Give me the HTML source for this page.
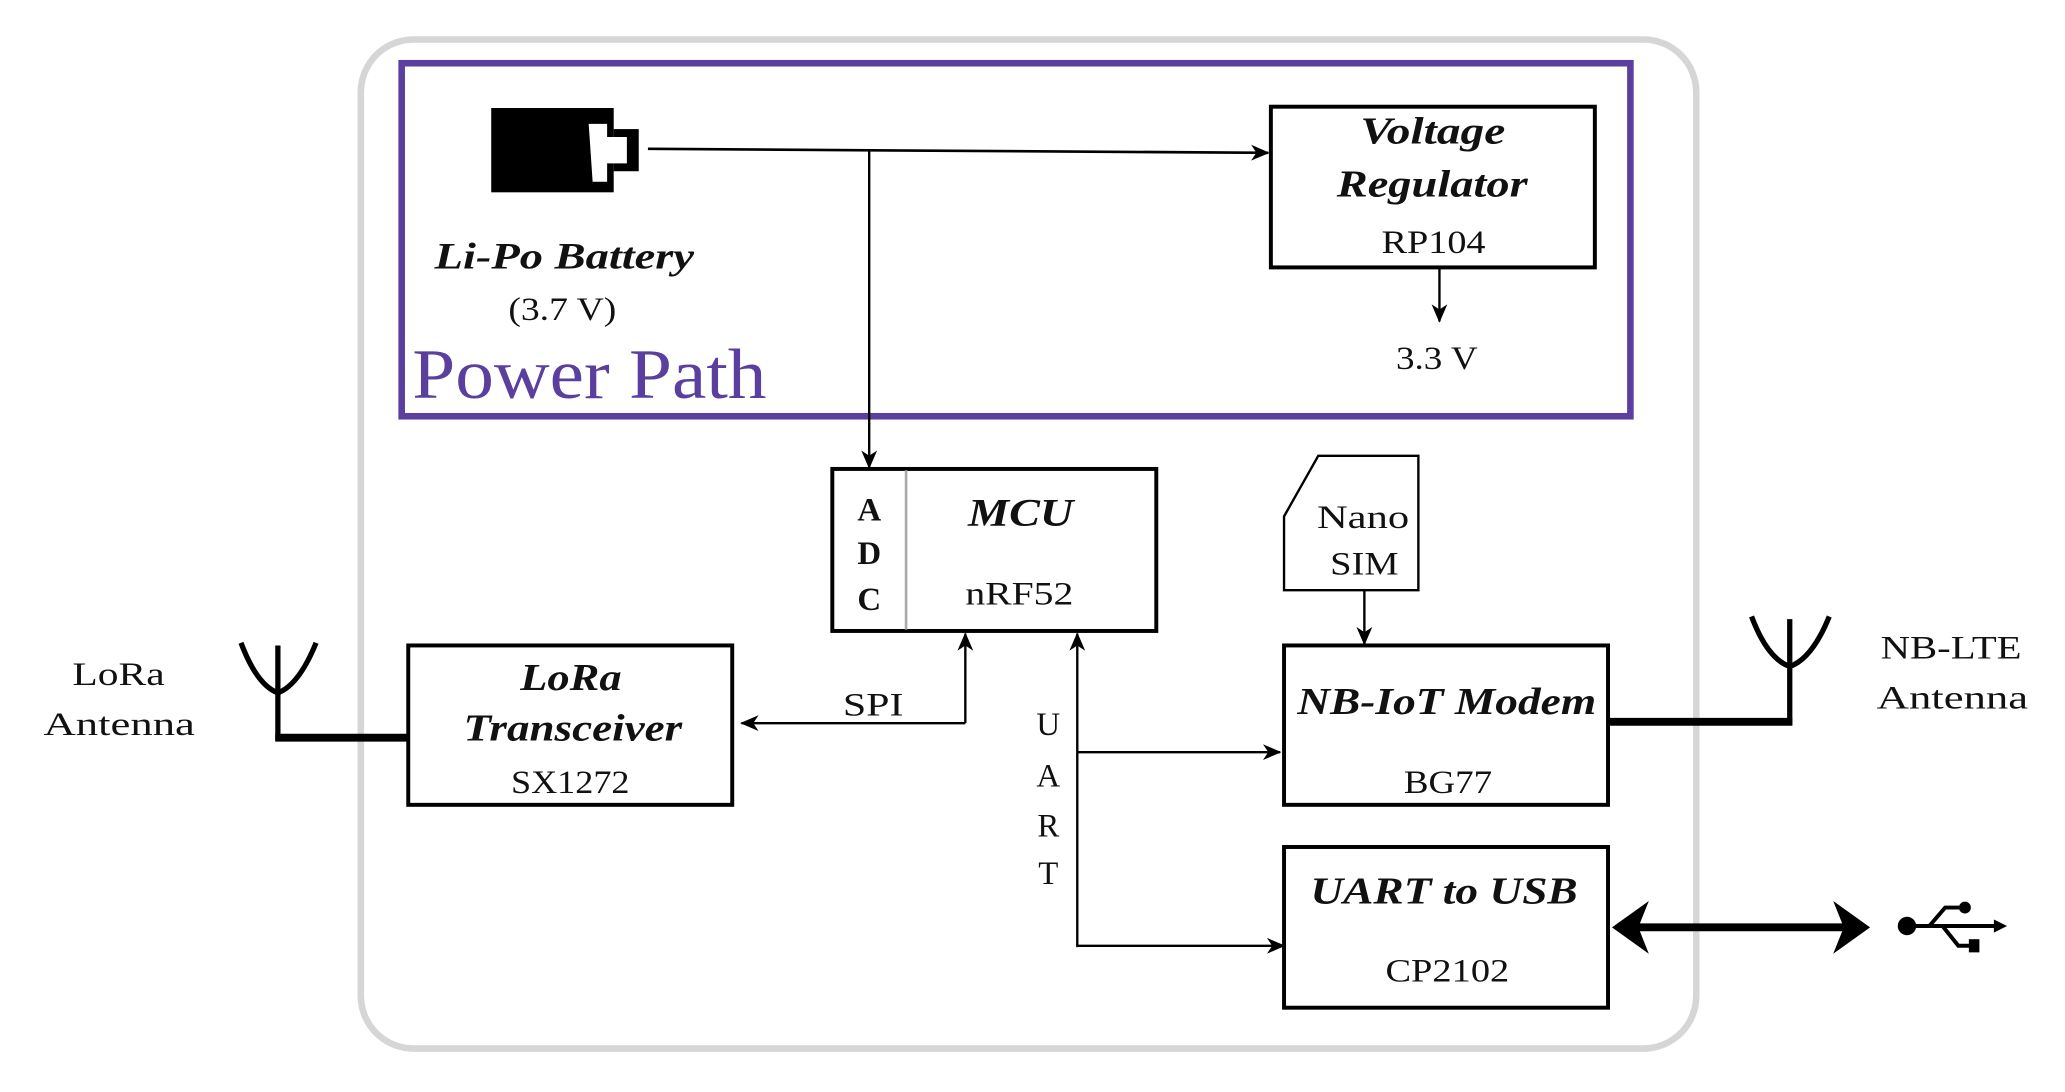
<!DOCTYPE html>
<html><head><meta charset="utf-8"><style>
html,body{margin:0;padding:0;background:#fff;}
svg{display:block;}
text{font-family:"Liberation Serif",serif;fill:#111;}
.bi{font-style:italic;font-weight:bold;}
</style></head><body>
<svg width="2065" height="1092" viewBox="0 0 1568 829" preserveAspectRatio="none" xmlns="http://www.w3.org/2000/svg">
<defs>
<marker id="a" markerWidth="14" markerHeight="14" refX="13" refY="7" orient="auto" markerUnits="userSpaceOnUse"><path d="M0,1 L14,7 L0,13 L4,7 Z" fill="#000"/></marker>
</defs>
<!-- outer -->
<rect x="274" y="30" width="1014" height="766" rx="40" fill="none" stroke="#d6d6d6" stroke-width="5"/>
<!-- power path -->
<rect x="305" y="48" width="933" height="268" fill="none" stroke="#5a3f9f" stroke-width="5"/>
<text x="313" y="302" font-size="54" textLength="269" lengthAdjust="spacingAndGlyphs" style="fill:#5a3f9f">Power Path</text>
<!-- battery -->
<rect x="373" y="82" width="93" height="64" fill="#000"/>
<rect x="466" y="98" width="19" height="32" fill="#000"/>
<polygon points="447,94 461,94 461,104 476,104 476,124 461,124 461,138 450,138" fill="#fff"/>
<text class="bi" x="330" y="204" font-size="28" textLength="197" lengthAdjust="spacingAndGlyphs">Li-Po Battery</text>
<text x="386" y="243" font-size="25" textLength="82" lengthAdjust="spacingAndGlyphs">(3.7 V)</text>
<!-- lines from battery -->
<line x1="492" y1="113" x2="963" y2="116" stroke="#000" stroke-width="2" marker-end="url(#a)"/>
<line x1="660" y1="114" x2="660" y2="355" stroke="#000" stroke-width="1.8" marker-end="url(#a)"/>
<!-- voltage regulator -->
<rect x="965" y="81" width="246" height="122" fill="#fff" stroke="#000" stroke-width="3"/>
<text class="bi" x="1033" y="109" font-size="29" textLength="110" lengthAdjust="spacingAndGlyphs">Voltage</text>
<text class="bi" x="1015" y="149" font-size="29" textLength="145" lengthAdjust="spacingAndGlyphs">Regulator</text>
<text x="1049" y="192" font-size="25" textLength="79" lengthAdjust="spacingAndGlyphs">RP104</text>
<line x1="1093" y1="203" x2="1093" y2="244" stroke="#000" stroke-width="1.8" marker-end="url(#a)"/>
<text x="1060" y="280" font-size="25" textLength="62" lengthAdjust="spacingAndGlyphs">3.3 V</text>
<!-- MCU -->
<rect x="632" y="356" width="246" height="123" fill="#fff" stroke="#000" stroke-width="3"/>
<line x1="688" y1="357" x2="688" y2="478" stroke="#aaa" stroke-width="2"/>
<text x="660" y="395" font-size="25" font-weight="bold" text-anchor="middle">A</text>
<text x="660" y="428" font-size="25" font-weight="bold" text-anchor="middle">D</text>
<text x="660" y="463" font-size="25" font-weight="bold" text-anchor="middle">C</text>
<text class="bi" x="735" y="399" font-size="30" textLength="80" lengthAdjust="spacingAndGlyphs">MCU</text>
<text x="733" y="459" font-size="25" textLength="82" lengthAdjust="spacingAndGlyphs">nRF52</text>
<!-- LoRa -->
<rect x="310" y="490" width="246" height="121" fill="#fff" stroke="#000" stroke-width="3"/>
<text class="bi" x="395" y="524" font-size="29" textLength="77" lengthAdjust="spacingAndGlyphs">LoRa</text>
<text class="bi" x="352" y="562" font-size="29" textLength="166" lengthAdjust="spacingAndGlyphs">Transceiver</text>
<text x="388" y="602" font-size="25" textLength="90" lengthAdjust="spacingAndGlyphs">SX1272</text>
<!-- SPI -->
<polyline points="733,549 733,481" fill="none" stroke="#000" stroke-width="1.8" marker-end="url(#a)"/>
<line x1="733" y1="549" x2="563" y2="549" stroke="#000" stroke-width="1.8" marker-end="url(#a)"/>
<text x="640" y="543" font-size="25" textLength="46" lengthAdjust="spacingAndGlyphs">SPI</text>
<!-- LoRa antenna -->
<path d="M183,488 Q195,520 211,526 Q227,520 240,488" fill="none" stroke="#000" stroke-width="4"/>
<line x1="211" y1="490" x2="211" y2="562" stroke="#000" stroke-width="4"/>
<line x1="209" y1="560" x2="310" y2="560" stroke="#000" stroke-width="6"/>
<text x="55" y="520" font-size="25" textLength="70" lengthAdjust="spacingAndGlyphs">LoRa</text>
<text x="33" y="558" font-size="25" textLength="115" lengthAdjust="spacingAndGlyphs">Antenna</text>
<!-- UART -->
<line x1="818" y1="719" x2="818" y2="481" stroke="#000" stroke-width="1.8" marker-end="url(#a)"/>
<line x1="818" y1="571" x2="972" y2="571" stroke="#000" stroke-width="1.8" marker-end="url(#a)"/>
<line x1="818" y1="718" x2="975" y2="718" stroke="#000" stroke-width="1.8" marker-end="url(#a)"/>
<text x="796" y="558" font-size="25" text-anchor="middle">U</text>
<text x="796" y="597" font-size="25" text-anchor="middle">A</text>
<text x="796" y="635" font-size="25" text-anchor="middle">R</text>
<text x="796" y="671" font-size="25" text-anchor="middle">T</text>
<!-- SIM -->
<polygon points="1001,346 1077,346 1077,448 975,448 975,392" fill="#fff" stroke="#000" stroke-width="1.8"/>
<text x="1000" y="401" font-size="25" textLength="70" lengthAdjust="spacingAndGlyphs">Nano</text>
<text x="1010" y="436" font-size="25" textLength="52" lengthAdjust="spacingAndGlyphs">SIM</text>
<line x1="1036" y1="448" x2="1036" y2="489" stroke="#000" stroke-width="1.8" marker-end="url(#a)"/>
<!-- NB-IoT -->
<rect x="975" y="490" width="246" height="121" fill="#fff" stroke="#000" stroke-width="3"/>
<text class="bi" x="985" y="542" font-size="29" textLength="227" lengthAdjust="spacingAndGlyphs">NB-IoT Modem</text>
<text x="1066" y="602" font-size="25" textLength="67" lengthAdjust="spacingAndGlyphs">BG77</text>
<!-- NB antenna -->
<path d="M1330,468 Q1342,500 1359,506 Q1376,500 1389,468" fill="none" stroke="#000" stroke-width="4"/>
<line x1="1359" y1="470" x2="1359" y2="550" stroke="#000" stroke-width="4"/>
<line x1="1221" y1="548" x2="1361" y2="548" stroke="#000" stroke-width="6"/>
<text x="1428" y="500" font-size="25" textLength="107" lengthAdjust="spacingAndGlyphs">NB-LTE</text>
<text x="1425" y="538" font-size="25" textLength="115" lengthAdjust="spacingAndGlyphs">Antenna</text>
<!-- UART to USB -->
<rect x="975" y="643" width="246" height="122" fill="#fff" stroke="#000" stroke-width="3"/>
<text class="bi" x="995" y="686" font-size="29" textLength="203" lengthAdjust="spacingAndGlyphs">UART to USB</text>
<text x="1052" y="745" font-size="25" textLength="94" lengthAdjust="spacingAndGlyphs">CP2102</text>
<!-- double arrow -->
<line x1="1240" y1="704" x2="1400" y2="704" stroke="#000" stroke-width="6"/>
<polygon points="1224,704 1252,684 1244,704 1252,724" fill="#000"/>
<polygon points="1420,704 1392,684 1400,704 1392,724" fill="#000"/>
<!-- USB symbol -->
<circle cx="1448" cy="703" r="7" fill="#000"/>
<line x1="1448" y1="703" x2="1516" y2="703" stroke="#000" stroke-width="3"/>
<polygon points="1524,703 1514,698 1514,708" fill="#000"/>
<polyline points="1465,703 1477,689 1492,689" fill="none" stroke="#000" stroke-width="3"/>
<circle cx="1492" cy="689" r="4.5" fill="#000"/>
<polyline points="1475,703 1487,718 1497,718" fill="none" stroke="#000" stroke-width="3"/>
<rect x="1495" y="713" width="8" height="10" fill="#000"/>
</svg>
</body></html>
